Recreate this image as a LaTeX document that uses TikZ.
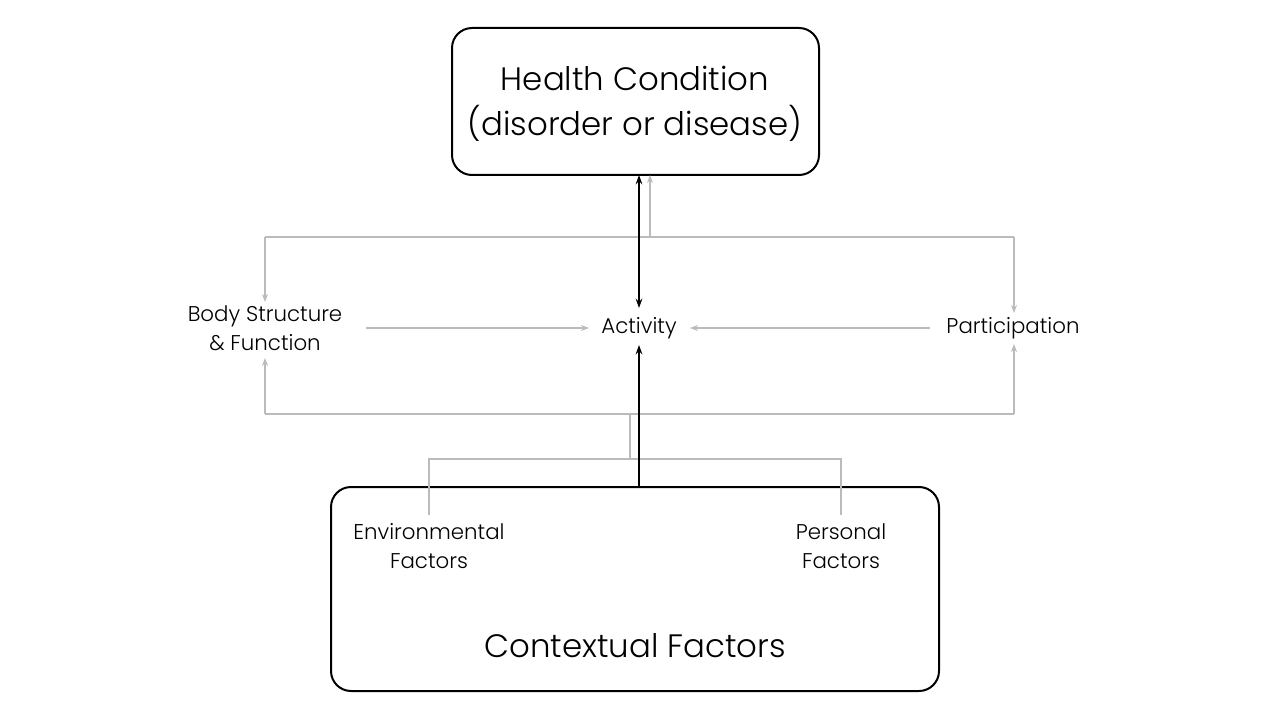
\documentclass[tikz,border=0pt]{standalone}
\usepackage{fontspec}
\setmainfont{Poppins}[UprightFont={* Light}]
\usetikzlibrary{arrows.meta}
\definecolor{lgray}{HTML}{BBBBBB}
\begin{document}
\begin{tikzpicture}[x=0.75pt,y=-0.75pt,
  bigbox/.style={draw=black,line width=1.5pt,rounded corners=15pt},
  bigtxt/.style={font=\fontsize{24.3}{34}\selectfont,align=center,inner sep=0pt},
  smalltxt/.style={font=\fontsize{16}{21.75}\selectfont,align=center,inner sep=0pt},
  garrow/.style={draw=lgray,line width=1.4pt,-{Stealth[length=6pt,width=4.5pt]}},
  gline/.style={draw=lgray,line width=1.4pt},
  barrow/.style={draw=black,line width=1.5pt,-{Stealth[length=7pt,width=5pt]}},
  bdarrow/.style={draw=black,line width=1.5pt,{Stealth[length=7pt,width=5pt]}-{Stealth[length=7pt,width=5pt]}}]
\useasboundingbox (0,0) rectangle (1280,720);
% boxes
\draw[bigbox] (452,28) rectangle (819,175);
\node[bigtxt] (hc) at (635,104) {Health Condition\\(disorder or disease)};
\coordinate (hcb) at (639,175);
\coordinate (hcb2) at (650,175);
\draw[bigbox] (331,487) rectangle (939,691);
\node[bigtxt] (cf) at (635,646) {Contextual Factors};
\coordinate (cft) at (639,487);
% small texts
\node[smalltxt] (body) at (265,328) {Body Structure\\\& Function};
\node[smalltxt] (act) at (639,328) {Activity};
\node[smalltxt] (part) at (1013,328) {Participation};
\node[smalltxt] (env) at (429,546) {Environmental\\Factors};
\node[smalltxt] (pers) at (841,546) {Personal\\Factors};
% coordinates
\coordinate (tl) at (265,237);
\coordinate (tr) at (1014,237);
\coordinate (tm) at (650,237);
\coordinate (bl) at (265,414);
\coordinate (br) at (1014,414);
\coordinate (bm) at (630,414);
\coordinate (em) at (630,459);
\coordinate (el) at (429,459);
\coordinate (er) at (841,459);
% gray connectors
\draw[garrow] (tl) -- (265,302);
\draw[gline] (tl) -- (tr);
\draw[garrow] (tr) -- (1014,313);
\draw[garrow] (tm) -- (hcb2);
\draw[garrow] (366,328) -- (589,328);
\draw[garrow] (930,328) -- (690,328);
\draw[garrow] (bl) -- (265,358);
\draw[gline] (bl) -- (br);
\draw[garrow] (br) -- (1014,344);
\draw[gline] (bm) -- (em);
\draw[gline] (429,515) -- (el) -- (er) -- (841,515);
% black
\draw[bdarrow] (hcb) -- (639,308);
\draw[barrow] (cft) -- (639,345);
\end{tikzpicture}
\end{document}
